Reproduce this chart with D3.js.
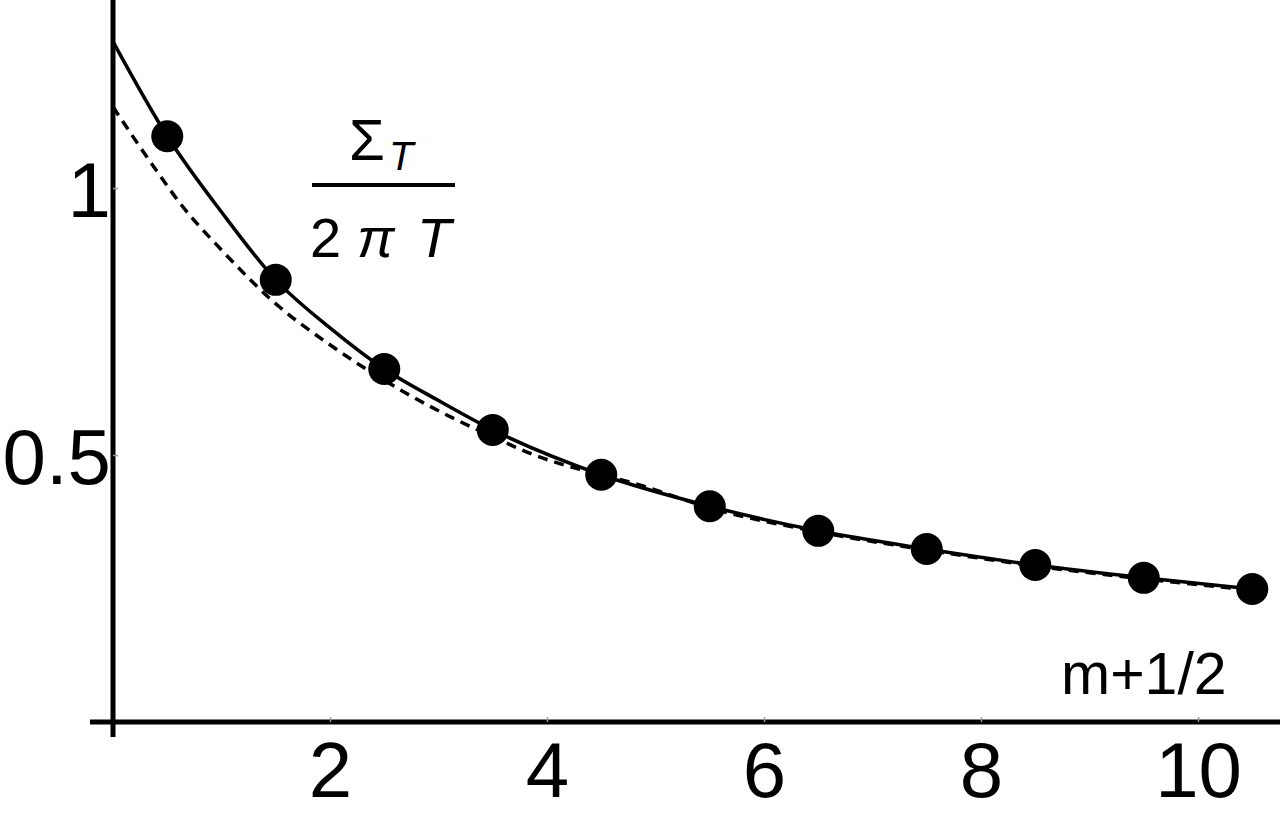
<!DOCTYPE html>
<html>
<head>
<meta charset="utf-8">
<script src="https://cdn.jsdelivr.net/npm/d3@7"></script>
<style>
  html, body { margin: 0; padding: 0; background: #fff; }
  svg { display: block; }
  text { font-family: "Liberation Sans", Arial, sans-serif; fill: #000; }
</style>
</head>
<body>
<svg id="chart" width="1280" height="815"></svg>
<script>
// ---- data ----
const pointX = [0.5, 1.5, 2.5, 3.5, 4.5, 5.5, 6.5, 7.5, 8.5, 9.5, 10.5];
const pointY = [1.097, 0.828, 0.661, 0.547, 0.463, 0.404, 0.358, 0.324, 0.294, 0.270, 0.249];

const solidX = [0, 0.5, 1.0, 1.5, 2.0, 2.5, 3.0, 3.5, 4.5, 5.5, 6.5, 7.5, 8.5, 9.5, 10.5];
const solidY = [1.274, 1.097, 0.955, 0.828, 0.738, 0.661, 0.602, 0.547, 0.463, 0.404, 0.358, 0.324, 0.294, 0.270, 0.249];

const dashX = [0, 0.43, 0.62, 1.0, 1.53, 1.96, 2.76, 3.5, 3.86, 4.9, 5.5, 6.5, 7.5, 8.5, 9.5, 10.5];
const dashY = [1.152, 1.024, 0.971, 0.884, 0.778, 0.712, 0.609, 0.534, 0.502, 0.441, 0.401, 0.356, 0.322, 0.292, 0.268, 0.247];

const xTicks = [2, 4, 6, 8, 10];
const yTicks = [0.5, 1];
const yTickLabels = ["0.5", "1"];
const xLabel = "m+1/2";

// ---- scales ----
const x = d3.scaleLinear().domain([0, 10]).range([113, 1198]);
const y = d3.scaleLinear().domain([0, 1]).range([722, 188]);

const svg = d3.select("#chart");

// axes lines
svg.append("line")
  .attr("x1", 90).attr("x2", 1280)
  .attr("y1", y(0)).attr("y2", y(0))
  .attr("stroke", "#000").attr("stroke-width", 5);
svg.append("line")
  .attr("x1", x(0)).attr("x2", x(0))
  .attr("y1", 0).attr("y2", 737)
  .attr("stroke", "#000").attr("stroke-width", 5);

// x axis ticks + labels
const gx = svg.append("g")
  .attr("transform", `translate(0,${y(0)})`)
  .call(d3.axisBottom(x).tickValues(xTicks).tickSize(-5).tickFormat(d3.format("d")));
gx.select(".domain").remove();
gx.selectAll(".tick line").attr("stroke", "#999").attr("stroke-width", 1.5);
gx.selectAll(".tick text")
  .attr("y", 75).attr("dy", 0)
  .style("font-size", "78px")
  .style("font-family", "'Liberation Sans', Arial, sans-serif")
  .attr("fill", "#000");

// y axis ticks + labels
const gy = svg.append("g")
  .attr("transform", `translate(${x(0)},0)`)
  .call(d3.axisLeft(y).tickValues(yTicks).tickSize(-5)
    .tickFormat((d, i) => yTickLabels[i]));
gy.select(".domain").remove();
gy.selectAll(".tick line").attr("stroke", "#999").attr("stroke-width", 1.5);
gy.selectAll(".tick text")
  .attr("x", -2).attr("dy", "0.36em")
  .attr("text-anchor", "end")
  .style("font-size", "78px")
  .style("font-family", "'Liberation Sans', Arial, sans-serif")
  .attr("fill", "#000");

// curves
const line = d3.line()
  .x(d => x(d[0])).y(d => y(d[1]))
  .curve(d3.curveMonotoneX);

svg.append("path")
  .datum(dashX.map((v, i) => [v, dashY[i]]))
  .attr("d", line)
  .attr("fill", "none").attr("stroke", "#000")
  .attr("stroke-width", 3.5)
  .attr("stroke-dasharray", "10,7");

svg.append("path")
  .datum(solidX.map((v, i) => [v, solidY[i]]))
  .attr("d", line)
  .attr("fill", "none").attr("stroke", "#000")
  .attr("stroke-width", 3.5);

// points
svg.append("g").selectAll("circle")
  .data(pointX.map((v, i) => [v, pointY[i]]))
  .join("circle")
  .attr("cx", d => x(d[0])).attr("cy", d => y(d[1]))
  .attr("r", 16).attr("fill", "#000");

// x label
svg.append("text")
  .attr("x", 1061).attr("y", 694)
  .style("font-size", "59px")
  .text(xLabel);

// fraction label  Σ_T / (2 π T)
const lab = svg.append("g");
lab.append("text").attr("x", 349).attr("y", 160).style("font-size", "58px").text("Σ");
lab.append("text").attr("x", 389).attr("y", 170).style("font-size", "40px").style("font-style", "italic").text("T");
lab.append("line")
  .attr("x1", 312).attr("x2", 455).attr("y1", 185).attr("y2", 185)
  .attr("stroke", "#000").attr("stroke-width", 4);
lab.append("text").attr("x", 310).attr("y", 257).style("font-size", "56px").text("2");
lab.append("text").attr("x", 357).attr("y", 257).style("font-size", "56px").style("font-style", "italic").text("π");
lab.append("text").attr("x", 417).attr("y", 257).style("font-size", "56px").style("font-style", "italic").text("T");
</script>
</body>
</html>
